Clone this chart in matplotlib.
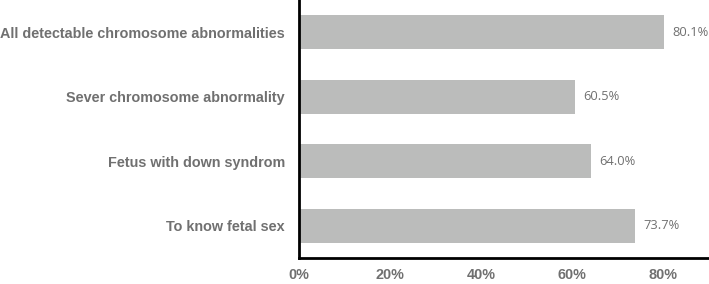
import matplotlib.pyplot as plt

categories = ["To know fetal sex", "Fetus with down syndrom",
              "Sever chromosome abnormality", "All detectable chromosome abnormalities"]
values = [73.7, 64.0, 60.5, 80.1]
xticks = [0, 20, 40, 60, 80]

gray = "#707070"

fig = plt.figure(figsize=(7.09, 2.84), dpi=100)
ax = fig.add_axes([299 / 709, 1 - 258 / 284, 1 - 299 / 709, 258 / 284])

y = range(len(categories))
ax.barh(y, values, height=0.53, color="#bbbcbb")

for yi, v in zip(y, values):
    ax.text(v + 1.9, yi, f"{v:.1f}%", va="center", ha="left",
            fontsize=9.3, color=gray, family="Open Sans")

ax.set_xlim(0, 90)
ax.set_ylim(-0.5, 3.5)
ax.set_yticks(list(y))
ax.set_yticklabels(categories, fontsize=10.4, fontweight="bold", color=gray,
                   family="Liberation Sans")
ax.set_xticks(xticks)
ax.set_xticklabels([f"{t}%" for t in xticks], fontsize=10.4, fontweight="bold",
                   color=gray, family="Liberation Sans")
ax.tick_params(axis="y", length=0, pad=10)
ax.tick_params(axis="x", length=0, pad=7)

for s in ["top", "right"]:
    ax.spines[s].set_visible(False)
for s in ["left", "bottom"]:
    ax.spines[s].set_linewidth(2)
    ax.spines[s].set_color("black")

fig.savefig("out.png", dpi=100)
